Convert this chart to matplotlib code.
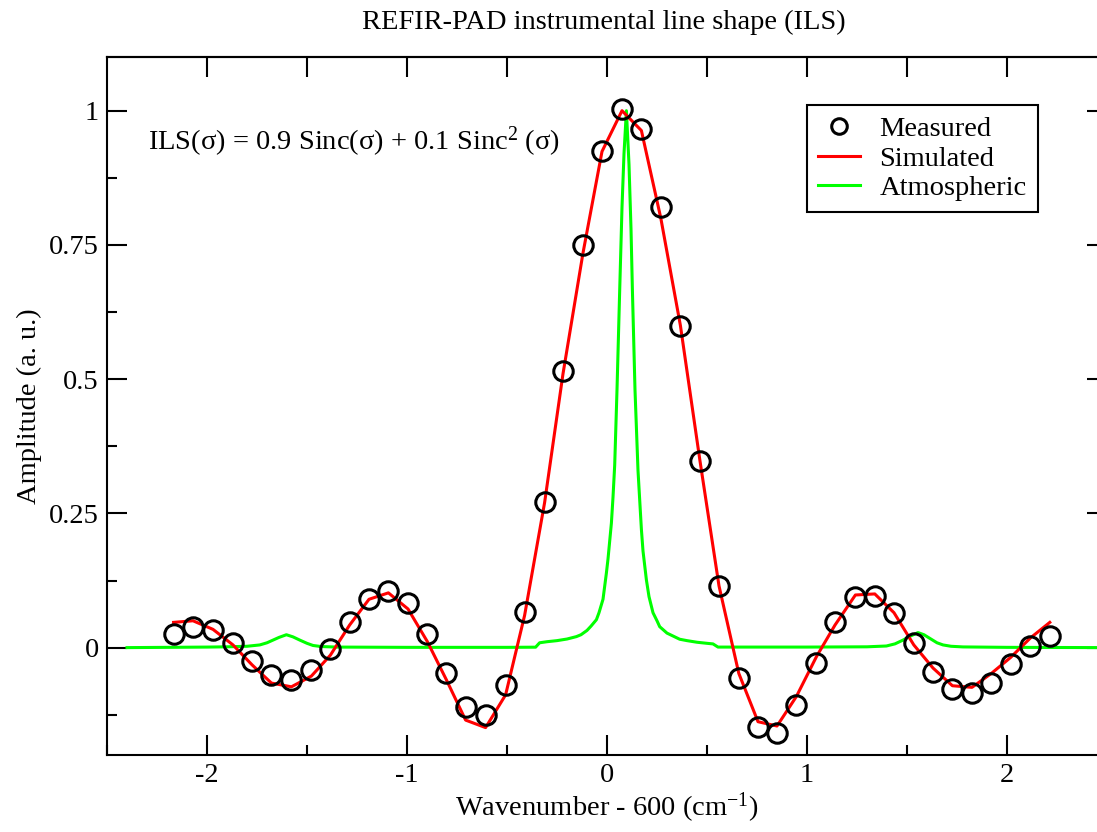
import numpy as np
import matplotlib
matplotlib.use("Agg")
import matplotlib.pyplot as plt
from matplotlib.ticker import MultipleLocator, FixedLocator, FixedFormatter

plt.rcParams['font.family'] = ['Liberation Serif', 'DejaVu Serif']
plt.rcParams['mathtext.fontset'] = 'custom'
plt.rcParams['mathtext.rm'] = 'Liberation Serif'
plt.rcParams['mathtext.it'] = 'Liberation Serif:italic'
plt.rcParams['axes.unicode_minus'] = False

# wavenumber grid of measured / simulated ILS (cm-1, relative to 600)
wn = [-2.167, -2.070, -1.970, -1.870, -1.775, -1.678, -1.578, -1.478, -1.383, -1.287,
      -1.190, -1.093, -0.995, -0.898, -0.803, -0.707, -0.607, -0.507, -0.412, -0.312,
      -0.220, -0.120, -0.025, 0.075, 0.172, 0.269, 0.367, 0.464, 0.560, 0.659,
      0.755, 0.850, 0.947, 1.047, 1.140, 1.242, 1.339, 1.435, 1.534, 1.630,
      1.727, 1.825, 1.922, 2.019, 2.117, 2.214]

measured = [0.026, 0.038, 0.032, 0.008, -0.024, -0.051, -0.060, -0.042, -0.003, 0.048,
            0.090, 0.106, 0.084, 0.026, -0.048, -0.110, -0.125, -0.070, 0.067, 0.272,
            0.516, 0.749, 0.924, 1.003, 0.965, 0.820, 0.599, 0.348, 0.114, -0.057,
            -0.148, -0.159, -0.107, -0.028, 0.048, 0.094, 0.096, 0.064, 0.009, -0.045,
            -0.078, -0.085, -0.065, -0.030, 0.003, 0.022]

simulated = [0.047, 0.050, 0.034, 0.005, -0.032, -0.066, -0.073, -0.053, -0.014, 0.042,
             0.090, 0.102, 0.072, 0.011, -0.060, -0.135, -0.149, -0.088, 0.060, 0.270,
             0.510, 0.735, 0.924, 1.000, 0.963, 0.800, 0.600, 0.350, 0.115, -0.048,
             -0.138, -0.146, -0.091, -0.017, 0.042, 0.098, 0.100, 0.065, 0.005, -0.038,
             -0.071, -0.074, -0.048, -0.018, 0.018, 0.047]

# atmospheric line
atm_x = [-2.40, -2.00, -1.90, -1.80, -1.736, -1.70, -1.67, -1.64, -1.603, -1.57,
         -1.536, -1.50, -1.47, -1.43, -1.35, -1.00, -0.50, -0.357, -0.337, -0.30,
         -0.25, -0.20, -0.153, -0.13, -0.10, -0.08, -0.053, -0.04, -0.020, -0.003,
         0.005, 0.022, 0.03, 0.0385, 0.05, 0.0635, 0.075, 0.085, 0.097, 0.110,
         0.12, 0.127, 0.14, 0.155, 0.172, 0.18, 0.197, 0.21, 0.23, 0.25,
         0.2635, 0.30, 0.3635, 0.40, 0.45, 0.50, 0.53, 0.555, 1.00, 1.30,
         1.397, 1.44, 1.48, 1.52, 1.555, 1.585, 1.613, 1.65, 1.68, 1.72,
         1.78, 2.00, 2.50]
atm_y = [0.000, 0.001, 0.0015, 0.0025, 0.005, 0.009, 0.014, 0.019, 0.024, 0.020,
         0.014, 0.008, 0.004, 0.002, 0.001, 0.0005, 0.0005, 0.0008, 0.009, 0.011,
         0.013, 0.016, 0.0205, 0.024, 0.032, 0.040, 0.052, 0.065, 0.090, 0.139,
         0.165, 0.232, 0.28, 0.340, 0.48, 0.666, 0.82, 0.920, 1.000, 0.900,
         0.78, 0.666, 0.48, 0.330, 0.220, 0.18, 0.126, 0.095, 0.065, 0.050,
         0.039, 0.027, 0.0156, 0.013, 0.010, 0.008, 0.0069, 0.001, 0.001, 0.0015,
         0.003, 0.007, 0.014, 0.022, 0.028, 0.024, 0.0175, 0.009, 0.005, 0.0025,
         0.0013, 0.0005, 0.000]

ytick_vals = [0, 0.25, 0.5, 0.75, 1]
ytick_labels = ['0', '0.25', '0.5', '0.75', '1']
xtick_vals = [-2, -1, 0, 1, 2]
xtick_labels = ['-2', '-1', '0', '1', '2']

fs = 20.5

fig = plt.figure(figsize=(10.97, 8.32), dpi=100)
# right spine sits just past the figure edge, like the original export
ax = fig.add_axes([107/1097, 77/832, 1000/1097, 698/832])

ax.plot(atm_x, atm_y, color='#00ff00', lw=2.2, label='Atmospheric', zorder=2)
ax.plot(wn, simulated, color='#ff0000', lw=2.2, label='Simulated', zorder=3)
ax.plot(wn, measured, 'o', ms=14, mfc='none', mec='black', mew=2.2,
        label='Measured', zorder=4)

ax.set_xlim(-2.5, 2.5)
ax.set_ylim(-0.2, 1.1)

ax.xaxis.set_major_locator(FixedLocator(xtick_vals))
ax.xaxis.set_major_formatter(FixedFormatter(xtick_labels))
ax.xaxis.set_minor_locator(MultipleLocator(0.5))
ax.yaxis.set_major_locator(FixedLocator(ytick_vals))
ax.yaxis.set_major_formatter(FixedFormatter(ytick_labels))
ax.yaxis.set_minor_locator(MultipleLocator(0.125))

ax.tick_params(which='both', direction='in', top=False, right=True,
               labelsize=fs, width=1.5, pad=6)
ax.tick_params(which='major', length=14.4)
ax.tick_params(which='minor', length=7.2)

# top axis: equal-length ticks every 0.5
top = ax.secondary_xaxis('top')
top.set_xticks(np.arange(-2, 2.01, 0.5))
top.tick_params(direction='in', length=14.4, width=1.5, labeltop=False)
top.spines['top'].set_linewidth(1.5)

for s in ax.spines.values():
    s.set_linewidth(1.5)

ax.set_xlabel('Wavenumber - 600 (cm$^{\\mathrm{-1}}$)', fontsize=fs, labelpad=2)
ax.set_ylabel('Amplitude (a. u.)', fontsize=fs, labelpad=5)

fig.text(604/1097, 1 - 22/832, 'REFIR-PAD instrumental line shape (ILS)',
         fontsize=fs, ha='center', va='center')

ax.text(-2.297, 0.942, 'ILS(σ) = 0.9 Sinc(σ) + 0.1 Sinc$^{2}$ (σ)',
        fontsize=fs, ha='left', va='center')

h, l = ax.get_legend_handles_labels()
order = [2, 1, 0]
leg = ax.legend([h[i] for i in order], [l[i] for i in order],
                loc='upper left', bbox_to_anchor=(807/1097, 1 - 105/832),
                bbox_transform=fig.transFigure, fontsize=fs, frameon=True,
                fancybox=False, edgecolor='black', framealpha=1,
                handlelength=1.45, handletextpad=0.7, labelspacing=0.12,
                borderpad=0.4, borderaxespad=0, markerscale=0.8)
leg.get_frame().set_linewidth(1.5)

fig.savefig('out.png', dpi=100)
